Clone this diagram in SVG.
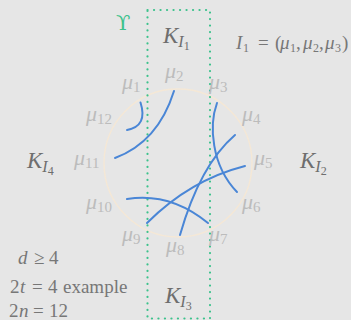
<svg xmlns="http://www.w3.org/2000/svg" width="351" height="320" viewBox="0 0 351 320">
<style>
.mu{font-family:"Liberation Serif","DejaVu Serif",serif;font-size:22px;fill:#bcbcbc}
.k{font-family:"Liberation Serif","DejaVu Serif",serif;font-size:23px;fill:#6e6e6e}
.t{font-family:"Liberation Serif","DejaVu Serif",serif;font-size:19px;fill:#777777}
.i{font-style:italic}
.edge{fill:none;stroke:#4a86d6;stroke-width:2;stroke-linecap:round}
</style>
<rect width="351" height="320" fill="#e6e6e6"/>
<g id="circle"><circle cx="178" cy="163" r="74" fill="none" stroke="#f5e8d6" stroke-width="1.4"/></g>
<g id="block">
<rect x="147.5" y="10" width="62.5" height="308.5" fill="none" stroke="#3cc28c" stroke-width="2.2" stroke-linecap="round" stroke-dasharray="0.1 6.4"/>
<text x="116" y="30" font-family="DejaVu Serif,Liberation Serif,serif" font-size="21" fill="#3cc28c">ϒ</text>
</g>
<g id="connectors">
<path class="edge" d="M140.5,102.5 Q148,126 127,130"/>
<path class="edge" d="M174,91 Q158,142 115,158"/>
<path class="edge" d="M217,103 C209,125 211,165 237,192"/>
<path class="edge" d="M235,135 Q200,165 180,235"/>
<path class="edge" d="M245,166 Q190,180 147,223"/>
<path class="edge" d="M127,199 Q170,192 208,223"/>
</g>
<g id="labels">
<text class="mu" x="122" y="89"><tspan class="i">μ</tspan><tspan font-size="15" dy="3">1</tspan></text>
<text class="mu" x="165" y="78"><tspan class="i">μ</tspan><tspan font-size="15" dy="3">2</tspan></text>
<text class="mu" x="209" y="89"><tspan class="i">μ</tspan><tspan font-size="15" dy="3">3</tspan></text>
<text class="mu" x="242" y="121"><tspan class="i">μ</tspan><tspan font-size="15" dy="3">4</tspan></text>
<text class="mu" x="254" y="165"><tspan class="i">μ</tspan><tspan font-size="15" dy="3">5</tspan></text>
<text class="mu" x="242" y="209"><tspan class="i">μ</tspan><tspan font-size="15" dy="3">6</tspan></text>
<text class="mu" x="209" y="241"><tspan class="i">μ</tspan><tspan font-size="15" dy="3">7</tspan></text>
<text class="mu" x="166" y="252"><tspan class="i">μ</tspan><tspan font-size="15" dy="3">8</tspan></text>
<text class="mu" x="122" y="241"><tspan class="i">μ</tspan><tspan font-size="15" dy="3">9</tspan></text>
<text class="mu" x="86" y="209"><tspan class="i">μ</tspan><tspan font-size="15" dy="3">10</tspan></text>
<text class="mu" x="74" y="165"><tspan class="i">μ</tspan><tspan font-size="15" dy="3">11</tspan></text>
<text class="mu" x="86" y="121"><tspan class="i">μ</tspan><tspan font-size="15" dy="3">12</tspan></text>
</g>
<g id="K1"><text class="k" x="163" y="43"><tspan class="i">K</tspan><tspan class="i" font-size="16" dy="4">I</tspan><tspan font-size="12" dy="3">1</tspan></text></g>
<g id="K2"><text class="k" x="300" y="168"><tspan class="i">K</tspan><tspan class="i" font-size="16" dy="4">I</tspan><tspan font-size="12" dy="3">2</tspan></text></g>
<g id="K3"><text class="k" x="165" y="303"><tspan class="i">K</tspan><tspan class="i" font-size="16" dy="4">I</tspan><tspan font-size="12" dy="3">3</tspan></text></g>
<g id="K4"><text class="k" x="27" y="168"><tspan class="i">K</tspan><tspan class="i" font-size="16" dy="4">I</tspan><tspan font-size="12" dy="3">4</tspan></text></g>
<g id="I1def"><text class="t" y="49" font-size="17" fill="#6a6a6a"><tspan class="i" x="236">I</tspan><tspan font-size="12" x="243" y="52">1</tspan><tspan x="258" y="49">=</tspan><tspan x="275">(</tspan><tspan class="i" x="280">μ</tspan><tspan font-size="12" x="290" y="52">1</tspan><tspan x="296" y="49">,</tspan><tspan class="i" x="303">μ</tspan><tspan font-size="12" x="313" y="52">2</tspan><tspan x="319" y="49">,</tspan><tspan class="i" x="325">μ</tspan><tspan font-size="12" x="335" y="52">3</tspan><tspan x="342" y="49">)</tspan></text></g>
<g id="notes">
<text class="t" y="264"><tspan class="i" x="18">d</tspan><tspan x="34">≥</tspan><tspan x="49">4</tspan></text>
<text class="t" y="293"><tspan x="10">2</tspan><tspan class="i" x="20">t</tspan><tspan x="32">=</tspan><tspan x="48">4</tspan><tspan x="63">example</tspan></text>
<text class="t" y="317"><tspan x="9">2</tspan><tspan class="i" x="19">n</tspan><tspan x="33">=</tspan><tspan x="49">12</tspan></text>
</g>
</svg>
